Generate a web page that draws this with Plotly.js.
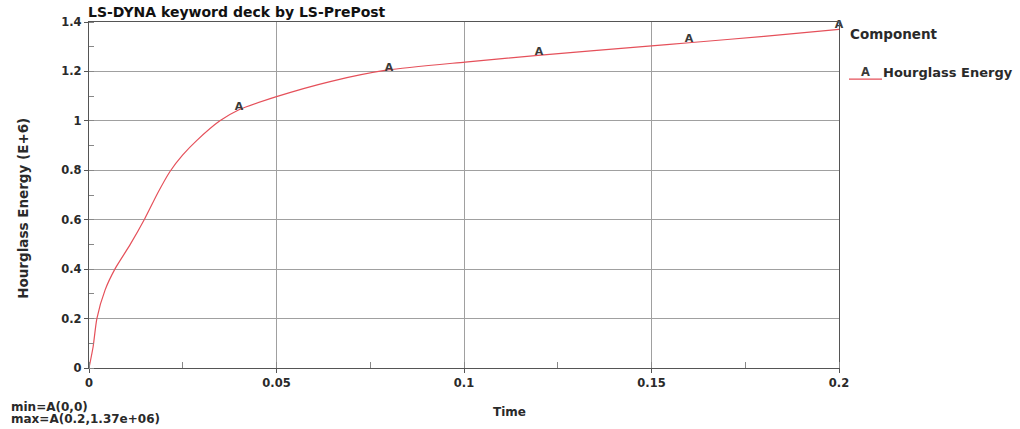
<!DOCTYPE html>
<html>
<head>
<meta charset="utf-8">
<script src="https://cdn.plot.ly/plotly-3.0.1.min.js"></script>
<style>html,body{margin:0;padding:0;background:#fff;}#chart{width:1020px;height:429px;}</style>
</head>
<body>
<div id="chart"></div>
<script>
// Time (s) and hourglass energy (E+6)
const time = [0, 0.0011, 0.0021, 0.0043, 0.0069, 0.011, 0.0149, 0.0184, 0.0216, 0.025, 0.0287, 0.0349, 0.04, 0.05, 0.0643, 0.0797, 0.1003, 0.1197, 0.15, 0.16, 0.18, 0.2];
const energy = [0, 0.086, 0.2, 0.316, 0.4, 0.5, 0.605, 0.71, 0.795, 0.862, 0.92, 1.0, 1.045, 1.098, 1.159, 1.206, 1.238, 1.265, 1.303, 1.316, 1.342, 1.37];
const markerTime = [0.04, 0.08, 0.12, 0.16, 0.2];
const markerEnergy = [1.055, 1.214, 1.278, 1.332, 1.385];
const markerLabel = ["A", "A", "A", "A", "A"];
const xTicks = [0, 0.05, 0.1, 0.15, 0.2];
const xTickText = ["0", "0.05", "0.1", "0.15", "0.2"];
const yTicks = [0, 0.2, 0.4, 0.6, 0.8, 1, 1.2, 1.4];
const yTickText = ["0", "0.2", "0.4", "0.6", "0.8", "1", "1.2", "1.4"];

const FONT = "DejaVu Sans, Verdana, sans-serif";
const lineColor = "#e5505a";
const txt = "#2a2a2a";

const traces = [
  {x: time, y: energy, type: "scatter", mode: "lines", line: {color: lineColor, width: 1.2, shape: "spline", smoothing: 0.6}, showlegend: false, hoverinfo: "skip"},
  {x: markerTime, y: markerEnergy, type: "scatter", mode: "text", text: markerLabel, textposition: "middle center", cliponaxis: false,
   textfont: {family: FONT, size: 11, color: "#3a3a3a", weight: "bold"}, showlegend: false, hoverinfo: "skip"}
];

const layout = {
  width: 1020, height: 429,
  margin: {l: 89, r: 181, t: 22, b: 61},
  paper_bgcolor: "#fff", plot_bgcolor: "#fff",
  font: {family: FONT, size: 11, color: txt},
  showlegend: false,
  xaxis: {
    range: [0, 0.2], tickvals: xTicks, ticktext: xTickText,
    showgrid: true, gridcolor: "#a0a0a0", gridwidth: 1,
    showline: true, linecolor: "#555", linewidth: 1.2, mirror: true,
    ticks: "outside", ticklen: 4, tickcolor: "#555",
    minor: {dtick: 0.025, ticks: "inside", ticklen: 6, tickcolor: "#888", showgrid: false},
    zeroline: false, tickfont: {family: FONT, size: 11.5, color: txt, weight: "bold"}
  },
  yaxis: {
    range: [0, 1.4], tickvals: yTicks, ticktext: yTickText,
    showgrid: true, gridcolor: "#a0a0a0", gridwidth: 1,
    showline: true, linecolor: "#555", linewidth: 1.2, mirror: true,
    ticks: "outside", ticklen: 4, tickcolor: "#555",
    minor: {dtick: 0.1, ticks: "inside", ticklen: 5, tickcolor: "#888", showgrid: false},
    zeroline: false, tickfont: {family: FONT, size: 11.5, color: txt, weight: "bold"}
  },
  annotations: [
    {xref: "paper", yref: "paper", x: 0.0, y: 1, xanchor: "left", yanchor: "middle", yshift: 10, xshift: -3, showarrow: false,
     text: "LS-DYNA keyword deck by LS-PrePost", font: {family: FONT, size: 14, color: "#111", weight: "bold"}},
    {xref: "paper", yref: "paper", x: 1, y: 0.965, xanchor: "left", yanchor: "middle", xshift: 9, showarrow: false,
     text: "Component", font: {family: FONT, size: 13.5, color: txt, weight: "bold"}},
    {xref: "paper", yref: "paper", x: 1, y: 0.855, xanchor: "center", yanchor: "middle", xshift: 26, showarrow: false,
     text: "A", font: {family: FONT, size: 11.5, color: "#3a3a3a", weight: "bold"}},
    {xref: "paper", yref: "paper", x: 1, y: 0.855, xanchor: "left", yanchor: "middle", xshift: 42, showarrow: false,
     text: "Hourglass Energy", font: {family: FONT, size: 13, color: txt, weight: "bold"}},
    {xref: "paper", yref: "paper", x: 0.56, y: 0, xanchor: "center", yanchor: "middle", yshift: -44, showarrow: false,
     text: "Time", font: {family: FONT, size: 12, color: txt, weight: "bold"}},
    {xref: "paper", yref: "paper", x: 0, y: 0.46, xanchor: "center", yanchor: "middle", xshift: -66, showarrow: false, textangle: -90,
     text: "Hourglass Energy (E+6)", font: {family: FONT, size: 13.5, color: txt, weight: "bold"}},
    {xref: "paper", yref: "paper", x: 0, y: 0, xanchor: "left", yanchor: "middle", xshift: -80, yshift: -39, showarrow: false,
     text: "min=A(0,0)", font: {family: FONT, size: 12, color: txt, weight: "bold"}},
    {xref: "paper", yref: "paper", x: 0, y: 0, xanchor: "left", yanchor: "middle", xshift: -80, yshift: -51, showarrow: false,
     text: "max=A(0.2,1.37e+06)", font: {family: FONT, size: 12, color: txt, weight: "bold"}}
  ],
  shapes: [
    {type: "line", xref: "paper", yref: "paper", xsizemode: "pixel", xanchor: 1, x0: 10, x1: 43, y0: 0.835, y1: 0.835,
     line: {color: lineColor, width: 1.2}}
  ]
};

Plotly.newPlot("chart", traces, layout, {staticPlot: true, displayModeBar: false});
</script>
</body>
</html>
